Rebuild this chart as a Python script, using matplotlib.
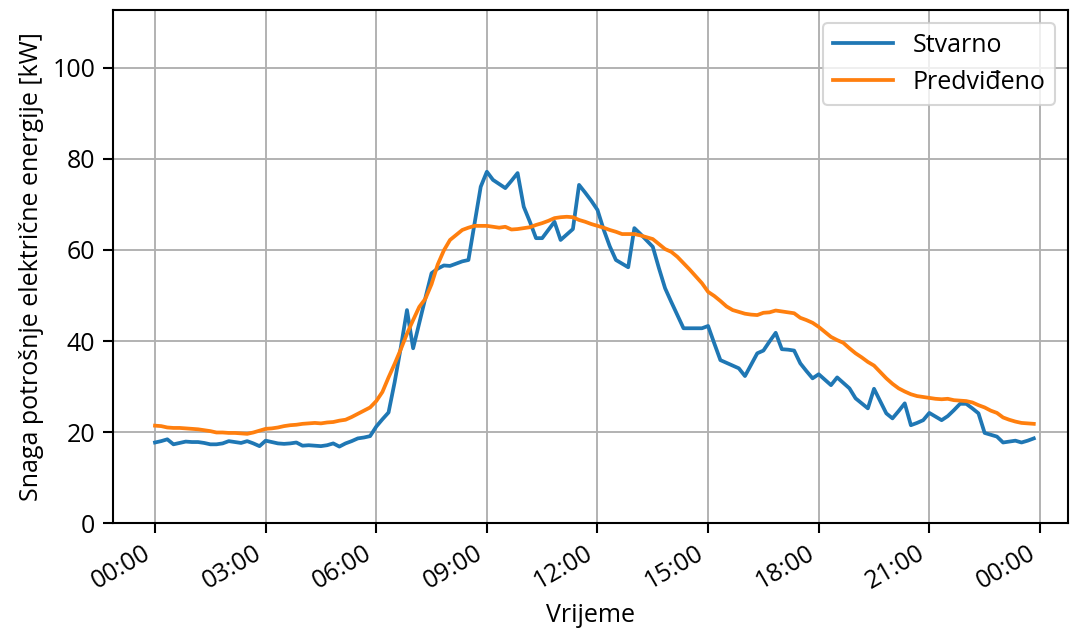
import numpy as np
import matplotlib
matplotlib.use('Agg')
import matplotlib.pyplot as plt
import matplotlib.dates as mdates
import pandas as pd

plt.rcParams['font.family'] = ['Open Sans', 'DejaVu Sans']
plt.rcParams['font.size'] = 12

# 10-minute samples over one day
vrijeme = pd.date_range('2024-01-01 00:00', periods=144, freq='10min')

# Actual consumption [kW], one row per hour (:00 ... :50)
stvarno = [
    17.7, 18.0, 18.4, 17.3, 17.6, 17.9,
    17.8, 17.8, 17.6, 17.3, 17.3, 17.5,
    18.0, 17.8, 17.6, 18.0, 17.5, 16.9,
    18.1, 17.8, 17.5, 17.4, 17.5, 17.7,
    17.0, 17.1, 17.0, 16.9, 17.1, 17.5,
    16.8, 17.5, 18.0, 18.6, 18.8, 19.1,
    21.2, 22.8, 24.3, 31.0, 38.6, 46.8,
    38.4, 44.0, 49.5, 54.9, 55.9, 56.6,
    56.5, 57.0, 57.5, 57.8, 65.9, 73.9,
    77.2, 75.4, 74.5, 73.6, 75.2, 76.9,
    69.5, 66.2, 62.6, 62.6, 64.4, 66.2,
    62.2, 63.4, 64.6, 74.3, 72.6, 70.8,
    68.8, 64.5, 60.8, 57.8, 57.0, 56.2,
    64.8, 63.5, 62.1, 60.7, 56.0, 51.6,
    48.6, 45.7, 42.8, 42.8, 42.8, 42.8,
    43.3, 39.5, 35.8, 35.2, 34.6, 34.0,
    32.3, 34.8, 37.3, 37.9, 39.9, 41.8,
    38.2, 38.1, 37.9, 35.1, 33.4, 31.8,
    32.7, 31.5, 30.3, 32.0, 30.8, 29.6,
    27.4, 26.3, 25.2, 29.5, 26.8, 24.1,
    23.0, 24.6, 26.3, 21.5, 22.0, 22.6,
    24.2, 23.4, 22.6, 23.5, 24.8, 26.2,
    26.2, 25.2, 24.1, 19.8, 19.4, 19.0,
    17.7, 17.9, 18.1, 17.7, 18.1, 18.6,
]

# Predicted consumption [kW]
predvideno = [
    21.4, 21.3, 21.0, 20.9, 20.9, 20.8,
    20.7, 20.6, 20.4, 20.2, 19.9, 19.9,
    19.8, 19.8, 19.7, 19.6, 19.9, 20.3,
    20.7, 20.8, 21.0, 21.3, 21.5, 21.6,
    21.8, 21.9, 22.0, 21.9, 22.1, 22.2,
    22.5, 22.7, 23.3, 24.0, 24.7, 25.4,
    26.8, 28.8, 32.0, 35.0, 38.2, 41.6,
    44.6, 47.5, 49.3, 52.5, 56.8, 59.9,
    62.2, 63.3, 64.4, 64.9, 65.3, 65.3,
    65.3, 65.1, 64.9, 65.1, 64.5, 64.6,
    64.8, 65.0, 65.5, 65.9, 66.4, 67.0,
    67.2, 67.3, 67.2, 66.6, 66.2, 65.7,
    65.3, 64.9, 64.4, 64.0, 63.5, 63.5,
    63.5, 63.2, 62.8, 62.4, 61.3, 60.2,
    59.6, 58.5, 57.1, 55.7, 54.2, 52.7,
    50.8, 49.9, 48.8, 47.6, 46.8, 46.4,
    46.0, 45.8, 45.7, 46.2, 46.3, 46.7,
    46.5, 46.3, 46.1, 45.1, 44.6, 44.0,
    43.1, 42.0, 40.9, 40.2, 39.6, 38.4,
    37.3, 36.4, 35.4, 34.6, 33.2, 31.8,
    30.6, 29.6, 28.9, 28.3, 27.9, 27.7,
    27.5, 27.3, 27.2, 27.3, 27.0, 26.9,
    26.8, 26.5, 25.9, 25.4, 24.7, 24.2,
    23.2, 22.7, 22.3, 22.0, 21.9, 21.8,
]

fig = plt.figure(figsize=(1070 / 150, 634 / 150), dpi=150)
ax = fig.add_axes([0.1056, 0.175, 0.8925, 0.809])

ax.plot(vrijeme, stvarno, color='#1f77b4', lw=1.8, label='Stvarno')
ax.plot(vrijeme, predvideno, color='#ff7f0e', lw=1.8, label='Predviđeno')

ax.xaxis.set_major_locator(mdates.HourLocator(byhour=range(0, 24, 3)))
ax.xaxis.set_major_formatter(mdates.DateFormatter('%H:%M'))
start = vrijeme[0]
ax.set_xlim(start - pd.Timedelta(hours=1.14), start + pd.Timedelta(hours=24.76))
ax.set_ylim(0, 112.7)
ax.set_yticks([0, 20, 40, 60, 80, 100])

for lbl in ax.get_xticklabels():
    lbl.set_rotation(30)
    lbl.set_ha('right')
ax.tick_params(axis='both', length=5, width=1)
for sp in ax.spines.values():
    sp.set_linewidth(1)

ax.set_xlabel('Vrijeme')
ax.set_ylabel('Snaga potrošnje električne energije [kW]')
ax.grid(True, color='#b0b0b0', lw=0.9)
ax.legend(loc='upper right', handlelength=2.4)

fig.savefig('out.png', dpi=150)
